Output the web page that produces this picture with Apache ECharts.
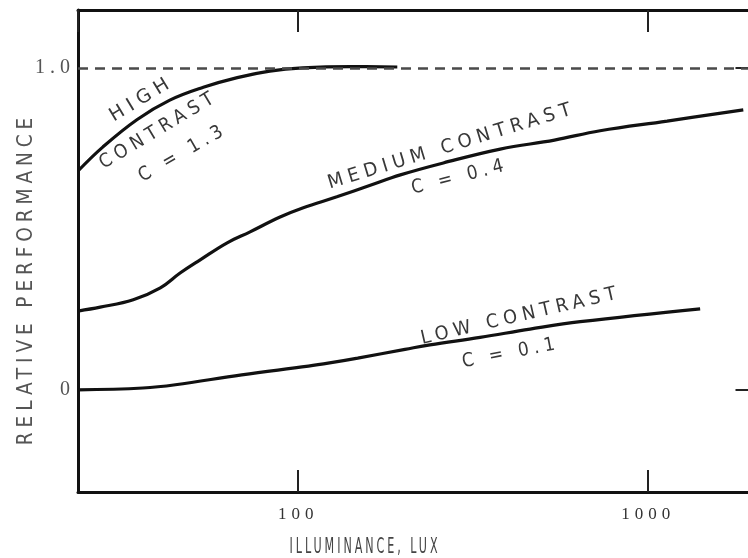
<!DOCTYPE html>
<html>
<head>
<meta charset="utf-8">
<script src="https://cdn.jsdelivr.net/npm/echarts@6/dist/echarts.min.js"></script>
<style>
  html, body { margin: 0; padding: 0; background: #fff; }
  #chart { width: 748px; height: 558px; }
</style>
</head>
<body>
<div id="chart"></div>
<script>
// illuminance (lux) and relative performance
const highX = [23.5, 27.7, 34.7, 43, 53.6, 67, 83, 103, 141, 192];
const highY = [0.68, 0.755, 0.84, 0.9, 0.94, 0.97, 0.99, 1.0, 1.004, 1.003];

const mediumX = [23.5, 27.2, 33.8, 40.4, 46, 52.5, 62.7, 72.9, 88.8, 103, 129, 160, 196, 260, 378, 540, 729, 1133, 1870];
const mediumY = [0.245, 0.257, 0.28, 0.317, 0.363, 0.404, 0.457, 0.491, 0.537, 0.565, 0.6, 0.635, 0.668, 0.705, 0.748, 0.776, 0.805, 0.835, 0.87];

const lowX = [23.5, 36, 44.6, 69, 107, 123, 148, 202, 238, 331, 460, 640, 1408];
const lowY = [0, 0.006, 0.016, 0.047, 0.074, 0.084, 0.099, 0.126, 0.14, 0.163, 0.189, 0.212, 0.252];

const yTicks = [0, 1];
const xMin = 23.5, xMax = 2000;
const yMin = -0.317, yMax = 1.18;

function pairs(xs, ys) {
  return xs.map((x, i) => [x, ys[i]]);
}

// echarts has no letter-spacing option, the lettering of the figure is spaced out
const fillText = CanvasRenderingContext2D.prototype.fillText;
CanvasRenderingContext2D.prototype.fillText = function () {
  this.letterSpacing = "5px";
  return fillText.apply(this, arguments);
};

const myChart = echarts.init(document.getElementById("chart"));

const lineStyle = { color: "#111", width: 3.2 };
const narrow = "'Liberation Sans Narrow', 'DejaVu Sans Condensed', sans-serif";

function note(text, x, y, deg, size, sx, color) {
  return {
    type: "text",
    x: x,
    y: y,
    rotation: (deg * Math.PI) / 180,
    scaleX: sx || 1,
    silent: true,
    style: {
      text: text,
      fill: color || "#383838",
      font: size + "px " + narrow,
      align: "center",
      verticalAlign: "middle"
    }
  };
}

const options = {
  animation: false,
  backgroundColor: "#fff",
  grid: { left: 78, top: 10, width: 675.5, height: 482, outerBoundsMode: "none", containLabel: false },
  xAxis: [
    {
      type: "log",
      logBase: 10,
      min: xMin,
      max: xMax,
      position: "bottom",
      axisLine: { onZero: false, lineStyle: { color: "#111", width: 3 } },
      axisTick: { inside: true, length: 22, lineStyle: { color: "#222", width: 2 } },
      axisLabel: {
        showMinLabel: false,
        showMaxLabel: false,
        formatter: v => String(Math.round(v)),
        margin: 14,
        color: "#333",
        fontSize: 17,
        fontFamily: "Liberation Serif"
      },
      splitLine: { show: false },
      minorTick: { show: false }
    },
    {
      type: "log",
      logBase: 10,
      min: xMin,
      max: xMax,
      position: "top",
      axisLine: { onZero: false, lineStyle: { color: "#111", width: 3 } },
      axisTick: { inside: true, length: 22, lineStyle: { color: "#222", width: 2 } },
      axisLabel: { show: false },
      splitLine: { show: false }
    }
  ],
  yAxis: [
    {
      type: "value",
      min: yMin,
      max: yMax,
      position: "left",
      axisLine: { show: true, onZero: false, lineStyle: { color: "#111", width: 3 } },
      axisTick: { show: false },
      axisLabel: {
        customValues: yTicks,
        formatter: v => (v === 1 ? "1.0" : String(v)),
        margin: 3,
        color: "#555",
        fontSize: 20,
        fontFamily: "Liberation Serif"
      },
      splitLine: { show: false }
    },
    {
      type: "value",
      min: yMin,
      max: yMax,
      position: "right",
      axisLine: { show: true, onZero: false, lineStyle: { color: "#111", width: 3 } },
      axisTick: {
        show: true,
        inside: true,
        length: 18,
        customValues: yTicks,
        lineStyle: { color: "#222", width: 2 }
      },
      axisLabel: { show: false },
      splitLine: { show: false }
    }
  ],
  series: [
    {
      name: "High contrast",
      type: "line",
      data: pairs(highX, highY),
      smooth: 0.4,
      showSymbol: false,
      lineStyle: lineStyle,
      z: 3,
      markLine: {
        silent: true,
        symbol: "none",
        label: { show: false },
        lineStyle: { type: [10, 7], color: "#4a4a4a", width: 2.5 },
        data: [{ yAxis: 1 }]
      }
    },
    {
      name: "Medium contrast",
      type: "line",
      data: pairs(mediumX, mediumY),
      smooth: 0.4,
      showSymbol: false,
      lineStyle: lineStyle
    },
    {
      name: "Low contrast",
      type: "line",
      data: pairs(lowX, lowY),
      smooth: 0.4,
      showSymbol: false,
      lineStyle: lineStyle
    }
  ],
  graphic: [
    note("HIGH", 142, 99, 31, 19, 1.12),
    note("CONTRAST", 159, 130, 31, 19, 1.02),
    note("C = 1.3", 183, 153, 30, 19),
    note("MEDIUM CONTRAST", 452, 146, 17, 19, 1.06),
    note("C = 0.4", 460, 177, 14, 19),
    note("LOW CONTRAST", 521, 316, 13, 19, 1.04),
    note("C = 0.1", 511, 353, 11, 19),
    note("RELATIVE PERFORMANCE", 27, 279, 90, 21, 0.98, "#555"),
    note("ILLUMINANCE, LUX", 365, 548, 0, 21, 0.59, "#444")
  ]
};

myChart.setOption(options);
window.addEventListener("resize", () => myChart.resize());
</script>
</body>
</html>
